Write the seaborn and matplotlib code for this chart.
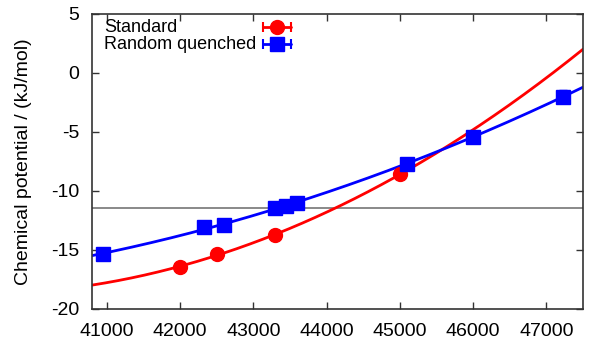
import numpy as np
import matplotlib
matplotlib.use("Agg")
import matplotlib.pyplot as plt
import seaborn as sns
from matplotlib.lines import Line2D

# Data
std_x = [42000, 42500, 43300, 45000]
std_y = [-16.45, -15.35, -13.75, -8.6]
std_err = [0.15, 0.15, 0.15, 0.2]

rq_x = [40950, 42330, 42600, 43300, 43450, 43600, 45100, 46000, 47230]
rq_y = [-15.35, -13.05, -12.9, -11.45, -11.25, -11.05, -7.7, -5.4, -2.0]
rq_err = [0.15, 0.15, 0.15, 0.2, 0.15, 0.15, 0.2, 0.25, 0.55]

ref_level = -11.45
labels = ["Standard", "Random quenched"]

sns.set_style("ticks")
plt.rcParams["font.family"] = ["Liberation Sans", "DejaVu Sans"]
plt.rcParams["axes.unicode_minus"] = False
plt.rcParams["text.color"] = "black"

fig = plt.figure(figsize=(5.98, 3.49), dpi=100)
ax = fig.add_axes([0.154, 0.115, 0.821, 0.845])

# quadratic fits through the points
xs = np.linspace(40800, 47500, 300)
std_fit = np.polyval(np.polyfit(std_x, std_y, 2), xs)
rq_fit = np.polyval(np.polyfit(rq_x, rq_y, 2), xs)

ax.axhline(ref_level, color="#808080", lw=1.3, zorder=1)
sns.lineplot(x=xs, y=std_fit, color="red", lw=2, ax=ax, zorder=2)
sns.lineplot(x=xs, y=rq_fit, color="blue", lw=2, ax=ax, zorder=2)

ax.errorbar(std_x, std_y, yerr=std_err, fmt="o", color="red", ms=10,
            capsize=3, elinewidth=1.5, zorder=3)
ax.errorbar(rq_x, rq_y, yerr=rq_err, fmt="s", color="blue", ms=10,
            capsize=3, elinewidth=1.5, zorder=3)

ax.set_xlim(40800, 47500)
ax.set_ylim(-20, 5)
ax.set_xticks(range(41000, 48000, 1000))
ax.set_yticks(range(-20, 6, 5))
ax.tick_params(direction="in", top=True, right=True, length=5, labelsize=14,
               width=1, color="#333333", labelcolor="black")
ax.tick_params(axis="y", pad=9)
ax.tick_params(axis="x", pad=10)
for s in ax.spines.values():
    s.set_visible(True)
    s.set_linewidth(1.2)
    s.set_color("#333333")
ax.set_ylabel("Chemical potential / (kJ/mol)", fontsize=14, labelpad=14,
              color="black")

# gnuplot-style key: left-aligned text, then errorbar line with marker
for i, (lab, c, m) in enumerate(zip(labels, ["red", "blue"], ["o", "s"])):
    yk = 0.955 - i * 0.058
    ax.text(0.024, yk, lab, transform=ax.transAxes, fontsize=13,
            ha="left", va="center", color="black")
    ax.add_line(Line2D([0.349, 0.405], [yk, yk], transform=ax.transAxes,
                       color=c, lw=2, marker="|", ms=7, mew=1.5))
    ax.add_line(Line2D([0.377], [yk], transform=ax.transAxes, color=c,
                       marker=m, ms=10, ls="none"))

fig.savefig("out.png", dpi=100)
